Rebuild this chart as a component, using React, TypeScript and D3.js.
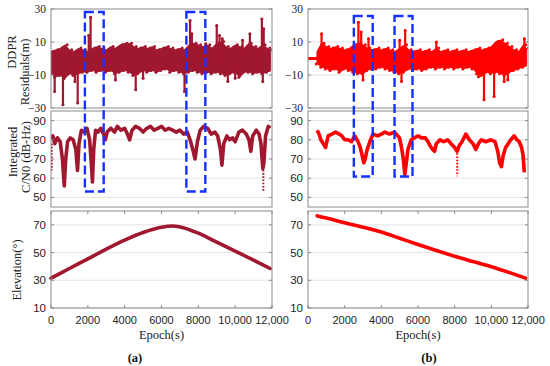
import React from 'react';
import * as d3 from 'd3';

// ---- axis ticks ----
const EPOCH_TICKS = [0, 2000, 4000, 6000, 8000, 10000, 12000];
const EPOCH_LABELS = ['0', '2000', '4000', '6000', '8000', '10,000', '12,000'];
const RES_TICKS = [30, 10, -10, -30];
const RES_LABELS = ['30', '10', '\u221210', '\u221230'];
const CN0_TICKS = [90, 80, 70, 60, 50];
const ELEV_TICKS = [70, 50, 30, 10];

// ---- (a) DDPR residual band: [epoch, upper, lower] ----
const resBandA: [number, number, number][] = [
  [0, 4, -9], [250, 5, -11], [500, 6, -10], [750, 8, -12], [1000, 5, -9], [1250, 4, -10],
  [1500, 6, -9], [1750, 5, -8], [2000, 4, -8], [2250, 6, -7], [2500, 7, -8], [2750, 6, -7],
  [3000, 5, -8], [3250, 7, -7], [3500, 6, -9], [3750, 8, -8], [4000, 9, -7], [4250, 9, -8],
  [4500, 7, -10], [4750, 6, -9], [5000, 7, -7], [5250, 6, -8], [5500, 7, -7], [5750, 5, -8],
  [6000, 6, -7], [6250, 7, -6], [6500, 6, -8], [6750, 5, -7], [7000, 6, -8], [7250, 5, -9],
  [7500, 8, -8], [7750, 9, -7], [8000, 8, -8], [8250, 7, -9], [8500, 8, -8], [8750, 6, -9],
  [9000, 9, -8], [9250, 10, -9], [9500, 7, -10], [9750, 6, -9], [10000, 8, -8], [10250, 7, -11],
  [10500, 6, -8], [10750, 9, -8], [11000, 7, -9], [11250, 6, -8], [11500, 8, -9], [11750, 6, -8],
  [11900, 5, -7],
];
// outliers of (a): [epoch, value]
const resSpikesA: [number, number][] = [
  [200, -20], [650, -28], [1300, -14], [1450, -27], [2050, 14], [2150, 25], [3500, -13],
  [4600, -19], [5000, -12], [7250, -20], [7550, 23], [7650, 15], [8400, 9], [9000, 20],
  [9150, 14], [9300, 12], [9600, -14], [10000, -12], [10400, 11], [10800, 15], [11450, 24],
  [11500, -14], [11550, 18],
];

// ---- (b) DDPR residual band ----
const resFlatB: [number, number][] = [[0, 0], [500, 0]];
const resBandB: [number, number, number][] = [
  [500, 4, -3], [750, 9, -5], [1000, 7, -6], [1250, 6, -7], [1500, 7, -6], [1750, 6, -8],
  [2000, 5, -6], [2250, 6, -7], [2500, 8, -8], [2750, 9, -9], [3000, 8, -9], [3250, 6, -7],
  [3500, 5, -6], [3750, 6, -6], [4000, 5, -5], [4250, 6, -6], [4500, 5, -7], [4750, 4, -8],
  [5000, 6, -9], [5250, 8, -8], [5500, 5, -6], [5750, 4, -7], [6000, 5, -6], [6250, 4, -7],
  [6500, 5, -6], [6750, 4, -5], [7000, 6, -6], [7250, 4, -5], [7500, 5, -6], [7750, 4, -5],
  [8000, 5, -6], [8250, 4, -5], [8500, 5, -6], [8750, 4, -5], [9000, 5, -6], [9250, 6, -9],
  [9500, 5, -10], [9750, 6, -8], [10000, 7, -9], [10250, 10, -8], [10500, 11, -9], [10750, 9, -10],
  [11000, 7, -8], [11250, 5, -7], [11500, 4, -6], [11750, 8, -5], [11900, 6, -4],
];
const resSpikesB: [number, number][] = [
  [740, 15], [2750, 22], [2900, 16], [3000, -13], [3300, 12], [5000, 11], [5100, -14],
  [5300, 17], [7000, 10], [9300, -11], [9600, -25], [10150, -23], [10700, -14], [10900, -13],
  [11800, 12],
];

// ---- integrated C/N0 (dB-Hz): [epoch, value] ----
const cn0A: [number, number][] = [
  [0, 80], [100, 82], [200, 78], [350, 81], [500, 79], [620, 70], [720, 56], [800, 70],
  [900, 79], [1050, 81], [1200, 80], [1350, 75], [1440, 64], [1520, 78], [1650, 85], [1800, 84],
  [1950, 86], [2100, 80], [2200, 66], [2250, 58], [2320, 75], [2420, 85], [2550, 84], [2700, 86],
  [2850, 83], [2950, 80], [3050, 84], [3250, 86], [3450, 84], [3600, 87], [3800, 85], [4000, 86],
  [4150, 83], [4270, 80], [4400, 85], [4600, 87], [4800, 86], [5000, 84], [5200, 86], [5400, 87],
  [5600, 85], [5800, 86], [6000, 87], [6200, 85], [6400, 86], [6600, 85], [6800, 84], [7000, 85],
  [7200, 83], [7400, 84], [7550, 80], [7700, 75], [7820, 70], [7950, 79], [8100, 85], [8300, 87],
  [8500, 86], [8700, 83], [8900, 84], [9050, 82], [9200, 75], [9280, 67], [9380, 78], [9550, 82],
  [9700, 80], [9850, 81], [10000, 79], [10200, 84], [10400, 85], [10600, 83], [10750, 80],
  [10850, 74], [10950, 82], [11150, 85], [11300, 83], [11400, 78], [11500, 65], [11560, 68],
  [11650, 82], [11800, 87], [11900, 86],
];
// dotted drop-outs: [epoch, from, to]
const cn0TailsA: [number, number, number][] = [
  [40, 78, 64], [2260, 60, 57], [9290, 68, 66], [11530, 66, 53],
];

const cn0B: [number, number][] = [
  [500, 85], [600, 83], [700, 80], [830, 78], [960, 76], [1100, 82], [1300, 83], [1500, 84],
  [1700, 83], [1850, 82], [2000, 80], [2200, 80], [2370, 79], [2550, 82], [2730, 79], [2850, 76],
  [2950, 72], [3040, 68], [3120, 70], [3200, 74], [3370, 79], [3550, 83], [3800, 82], [4000, 83],
  [4200, 84], [4450, 83], [4720, 84], [4990, 81], [5100, 76], [5200, 70], [5280, 62], [5350, 67],
  [5450, 75], [5630, 80], [5800, 81], [6000, 82], [6200, 81], [6400, 81], [6550, 79], [6650, 77],
  [6800, 75], [6900, 74], [7000, 78], [7200, 80], [7400, 79], [7620, 80], [7800, 78], [8000, 76],
  [8130, 74], [8250, 77], [8400, 79], [8610, 83], [8800, 80], [9000, 78], [9150, 75], [9300, 78],
  [9450, 80], [9700, 79], [9970, 80], [10200, 79], [10350, 74], [10450, 68], [10550, 66],
  [10650, 72], [10780, 76], [11060, 80], [11240, 82], [11400, 80], [11520, 79], [11650, 76],
  [11730, 72], [11800, 63],
];
const cn0TailsB: [number, number, number][] = [[8140, 73, 61]];

// ---- elevation (deg) ----
const elevA: [number, number][] = [
  [0, 31.5], [1000, 38.5], [2000, 45.5], [3000, 52.5], [4000, 59], [5000, 64.5], [6000, 68.3],
  [6600, 69.2], [7000, 68.5], [8000, 64], [9000, 57.5], [10000, 51], [11000, 44.5], [11900, 38.5],
];
const elevB: [number, number][] = [
  [500, 76.5], [1000, 75], [2000, 71.5], [3000, 68.3], [4000, 64.8], [5000, 60.3], [6000, 55.8],
  [7000, 51.5], [8000, 47.3], [9000, 43.5], [10000, 39.8], [11000, 35.5], [11870, 31.5],
];

// ---- highlighted windows: [epochStart, epochEnd, residualTop, cn0Bottom] ----
const boxesA: [number, number, number, number][] = [[1840, 2860, 28.2, 53.1], [7350, 8380, 28.2, 53.1]];
const boxesB: [number, number, number, number][] = [[2500, 3530, 25.8, 60.9], [4720, 5700, 25.8, 60.9]];

const SERIF = '"Liberation Serif", "Times New Roman", serif';
const SANS = '"Liberation Sans", Arial, sans-serif';
const GRID = '#e4e4e4';
const FRAME = '#8a8a8a';

type Col = {
  id: string; x0: number; x1: number; color: string; tag: string;
  band: [number, number, number][]; spikes: [number, number][]; flat?: [number, number][];
  cn0: [number, number][]; tails: [number, number, number][];
  elev: [number, number][]; boxes: [number, number, number, number][];
};

const COLS: Col[] = [
  { id: 'a', x0: 51, x1: 272, color: '#a0182f', tag: '(a)', band: resBandA, spikes: resSpikesA,
    cn0: cn0A, tails: cn0TailsA, elev: elevA, boxes: boxesA },
  { id: 'b', x0: 308, x1: 528, color: '#ff0000', tag: '(b)', band: resBandB, spikes: resSpikesB,
    flat: resFlatB, cn0: cn0B, tails: cn0TailsB, elev: elevB, boxes: boxesB },
];

const PANELS = {
  res: { top: 9, bottom: 108 },
  cn0: { top: 111, bottom: 207 },
  elev: { top: 211, bottom: 308 },
};

function Frame({ x0, x1, top, bottom, ticks, y, labels, font, xTicks, xs }: any) {
  return (
    <g>
      <rect x={x0} y={top} width={x1 - x0} height={bottom - top} fill="none" stroke={FRAME} strokeWidth={1} />
      {ticks.map((t: number, i: number) => (
        <g key={i}>
          <line x1={x0} x2={x0 + 3} y1={y(t)} y2={y(t)} stroke={FRAME} />
          <line x1={x1 - 3} x2={x1} y1={y(t)} y2={y(t)} stroke={FRAME} />
          <text x={x0 - 5} y={y(t)} dy="0.35em" textAnchor="end" fontSize={11.5} fontFamily={font} fill="#222">
            {labels[i]}
          </text>
        </g>
      ))}
      {xTicks && EPOCH_TICKS.map((t, i) => (
        <g key={'x' + i}>
          <line x1={xs(t)} x2={xs(t)} y1={top} y2={top + 3} stroke={FRAME} />
          <line x1={xs(t)} x2={xs(t)} y1={bottom - 3} y2={bottom} stroke={FRAME} />
        </g>
      ))}
    </g>
  );
}

function Grid({ x0, x1, ticks, y }: any) {
  return (
    <g>
      {ticks.map((t: number, i: number) => (
        <line key={i} x1={x0} x2={x1} y1={y(t)} y2={y(t)} stroke={GRID} strokeWidth={1} />
      ))}
    </g>
  );
}

function Column({ c }: { c: Col }) {
  const x = d3.scaleLinear().domain([0, 12000]).range([c.x0, c.x1]);
  const yRes = d3.scaleLinear().domain([-30, 30]).range([PANELS.res.bottom, PANELS.res.top]);
  const yCn = d3.scaleLinear().domain([45, 95]).range([PANELS.cn0.bottom, PANELS.cn0.top]);
  const yEl = d3.scaleLinear().domain([10, 80]).range([PANELS.elev.bottom, PANELS.elev.top]);

  const band = d3.area<[number, number, number]>()
    .x(d => x(d[0])).y0(d => yRes(d[2])).y1(d => yRes(d[1]))
    .curve(d3.curveLinear)(c.band) as string;
  const cnLine = d3.line<[number, number]>().x(d => x(d[0])).y(d => yCn(d[1])).curve(d3.curveLinear)(c.cn0) as string;
  const elLine = d3.line<[number, number]>().x(d => x(d[0])).y(d => yEl(d[1])).curve(d3.curveMonotoneX)(c.elev) as string;
  const flatLine = c.flat ? (d3.line<[number, number]>().x(d => x(d[0])).y(d => yRes(d[1]))(c.flat) as string) : null;

  const cx = (c.x0 + c.x1) / 2;

  return (
    <g>
      <defs>
        <clipPath id={'clip-res-' + c.id}>
          <rect x={c.x0} y={PANELS.res.top} width={c.x1 - c.x0} height={PANELS.res.bottom - PANELS.res.top} />
        </clipPath>
        <clipPath id={'clip-cn-' + c.id}>
          <rect x={c.x0} y={PANELS.cn0.top} width={c.x1 - c.x0} height={PANELS.cn0.bottom - PANELS.cn0.top} />
        </clipPath>
      </defs>

      {/* residuals */}
      <Grid x0={c.x0} x1={c.x1} ticks={[10, -10]} y={yRes} />
      <g clipPath={`url(#clip-res-${c.id})`}>
        {flatLine && <path d={flatLine} fill="none" stroke={c.color} strokeWidth={3} />}
        <path d={band} fill={c.color} stroke={c.color} strokeWidth={1.5} strokeLinejoin="round" />
        {c.band.map((d, i) => (
          <g key={i}>
            <circle cx={x(d[0]) + 2.3} cy={yRes(d[1]) - 0.5} r={1.5} fill={c.color} />
            <circle cx={x(d[0]) - 1} cy={yRes(d[2]) + 0.5} r={1.5} fill={c.color} />
          </g>
        ))}
        {c.spikes.map((d, i) => (
          <g key={'s' + i}>
            <line x1={x(d[0])} x2={x(d[0])} y1={yRes(0)} y2={yRes(d[1])} stroke={c.color} strokeWidth={2.2} strokeLinecap="round" />
            <circle cx={x(d[0])} cy={yRes(d[1])} r={1.5} fill={c.color} />
          </g>
        ))}
      </g>
      <Frame x0={c.x0} x1={c.x1} top={PANELS.res.top} bottom={PANELS.res.bottom} ticks={RES_TICKS}
        y={yRes} labels={RES_LABELS} font={SERIF} />

      {/* C/N0 */}
      <Grid x0={c.x0} x1={c.x1} ticks={CN0_TICKS} y={yCn} />
      <g clipPath={`url(#clip-cn-${c.id})`}>
        <path d={cnLine} fill="none" stroke={c.color} strokeWidth={3.6} strokeLinejoin="round" />
        {c.tails.map((d, i) => (
          <line key={i} x1={x(d[0])} x2={x(d[0])} y1={yCn(d[1])} y2={yCn(d[2])} stroke={c.color}
            strokeWidth={2} strokeDasharray="1.6,1.6" />
        ))}
      </g>
      <Frame x0={c.x0} x1={c.x1} top={PANELS.cn0.top} bottom={PANELS.cn0.bottom} ticks={CN0_TICKS}
        y={yCn} labels={CN0_TICKS.map(String)} font={SANS} />

      {/* elevation */}
      <Grid x0={c.x0} x1={c.x1} ticks={ELEV_TICKS} y={yEl} />
      <path d={elLine} fill="none" stroke={c.color} strokeWidth={3.6} strokeLinecap="round" />
      <Frame x0={c.x0} x1={c.x1} top={PANELS.elev.top} bottom={PANELS.elev.bottom} ticks={ELEV_TICKS}
        y={yEl} labels={ELEV_TICKS.map(String)} font={SANS} xTicks xs={x} />
      {EPOCH_TICKS.map((t, i) => (
        <text key={i} x={x(t)} y={324} textAnchor="middle" fontSize={11} fontFamily={SANS} fill="#222">
          {EPOCH_LABELS[i]}
        </text>
      ))}
      <text x={cx} y={339} textAnchor="middle" fontSize={12.5} fontFamily={SERIF} fill="#222">Epoch(s)</text>
      <text x={c.id === 'a' ? 135 : 429} y={362} textAnchor="middle" fontSize={12.5} fontWeight="bold"
        fontFamily={SERIF} fill="#111">{c.tag}</text>

      {/* highlighted windows */}
      {c.boxes.map((b, i) => (
        <rect key={i} x={x(b[0])} y={yRes(b[2])} width={x(b[1]) - x(b[0])} height={yCn(b[3]) - yRes(b[2])}
          fill="none" stroke="#1530ff" strokeWidth={2.4} strokeDasharray="9,4" />
      ))}
    </g>
  );
}

export default function App() {
  return (
    <svg width={550} height={366} style={{ position: 'absolute', left: 0, top: 0, background: '#fff' }}>
      <rect width={550} height={366} fill="#fff" />
      {COLS.map(c => <Column key={c.id} c={c} />)}
      {/* y axis titles (left column only) */}
      <g fontFamily={SERIF} fontSize={12.5} fill="#222" textAnchor="middle">
        <text transform="translate(16,52) rotate(-90)">DDPR</text>
        <text transform="translate(29,72) rotate(-90)">Residuals(m)</text>
        <text transform="translate(17,152) rotate(-90)">Integrated</text>
        <text transform="translate(30,157) rotate(-90)">C/N0 (dB-Hz)</text>
        <text transform="translate(21,270) rotate(-90)">Elevation(°)</text>
      </g>
    </svg>
  );
}
